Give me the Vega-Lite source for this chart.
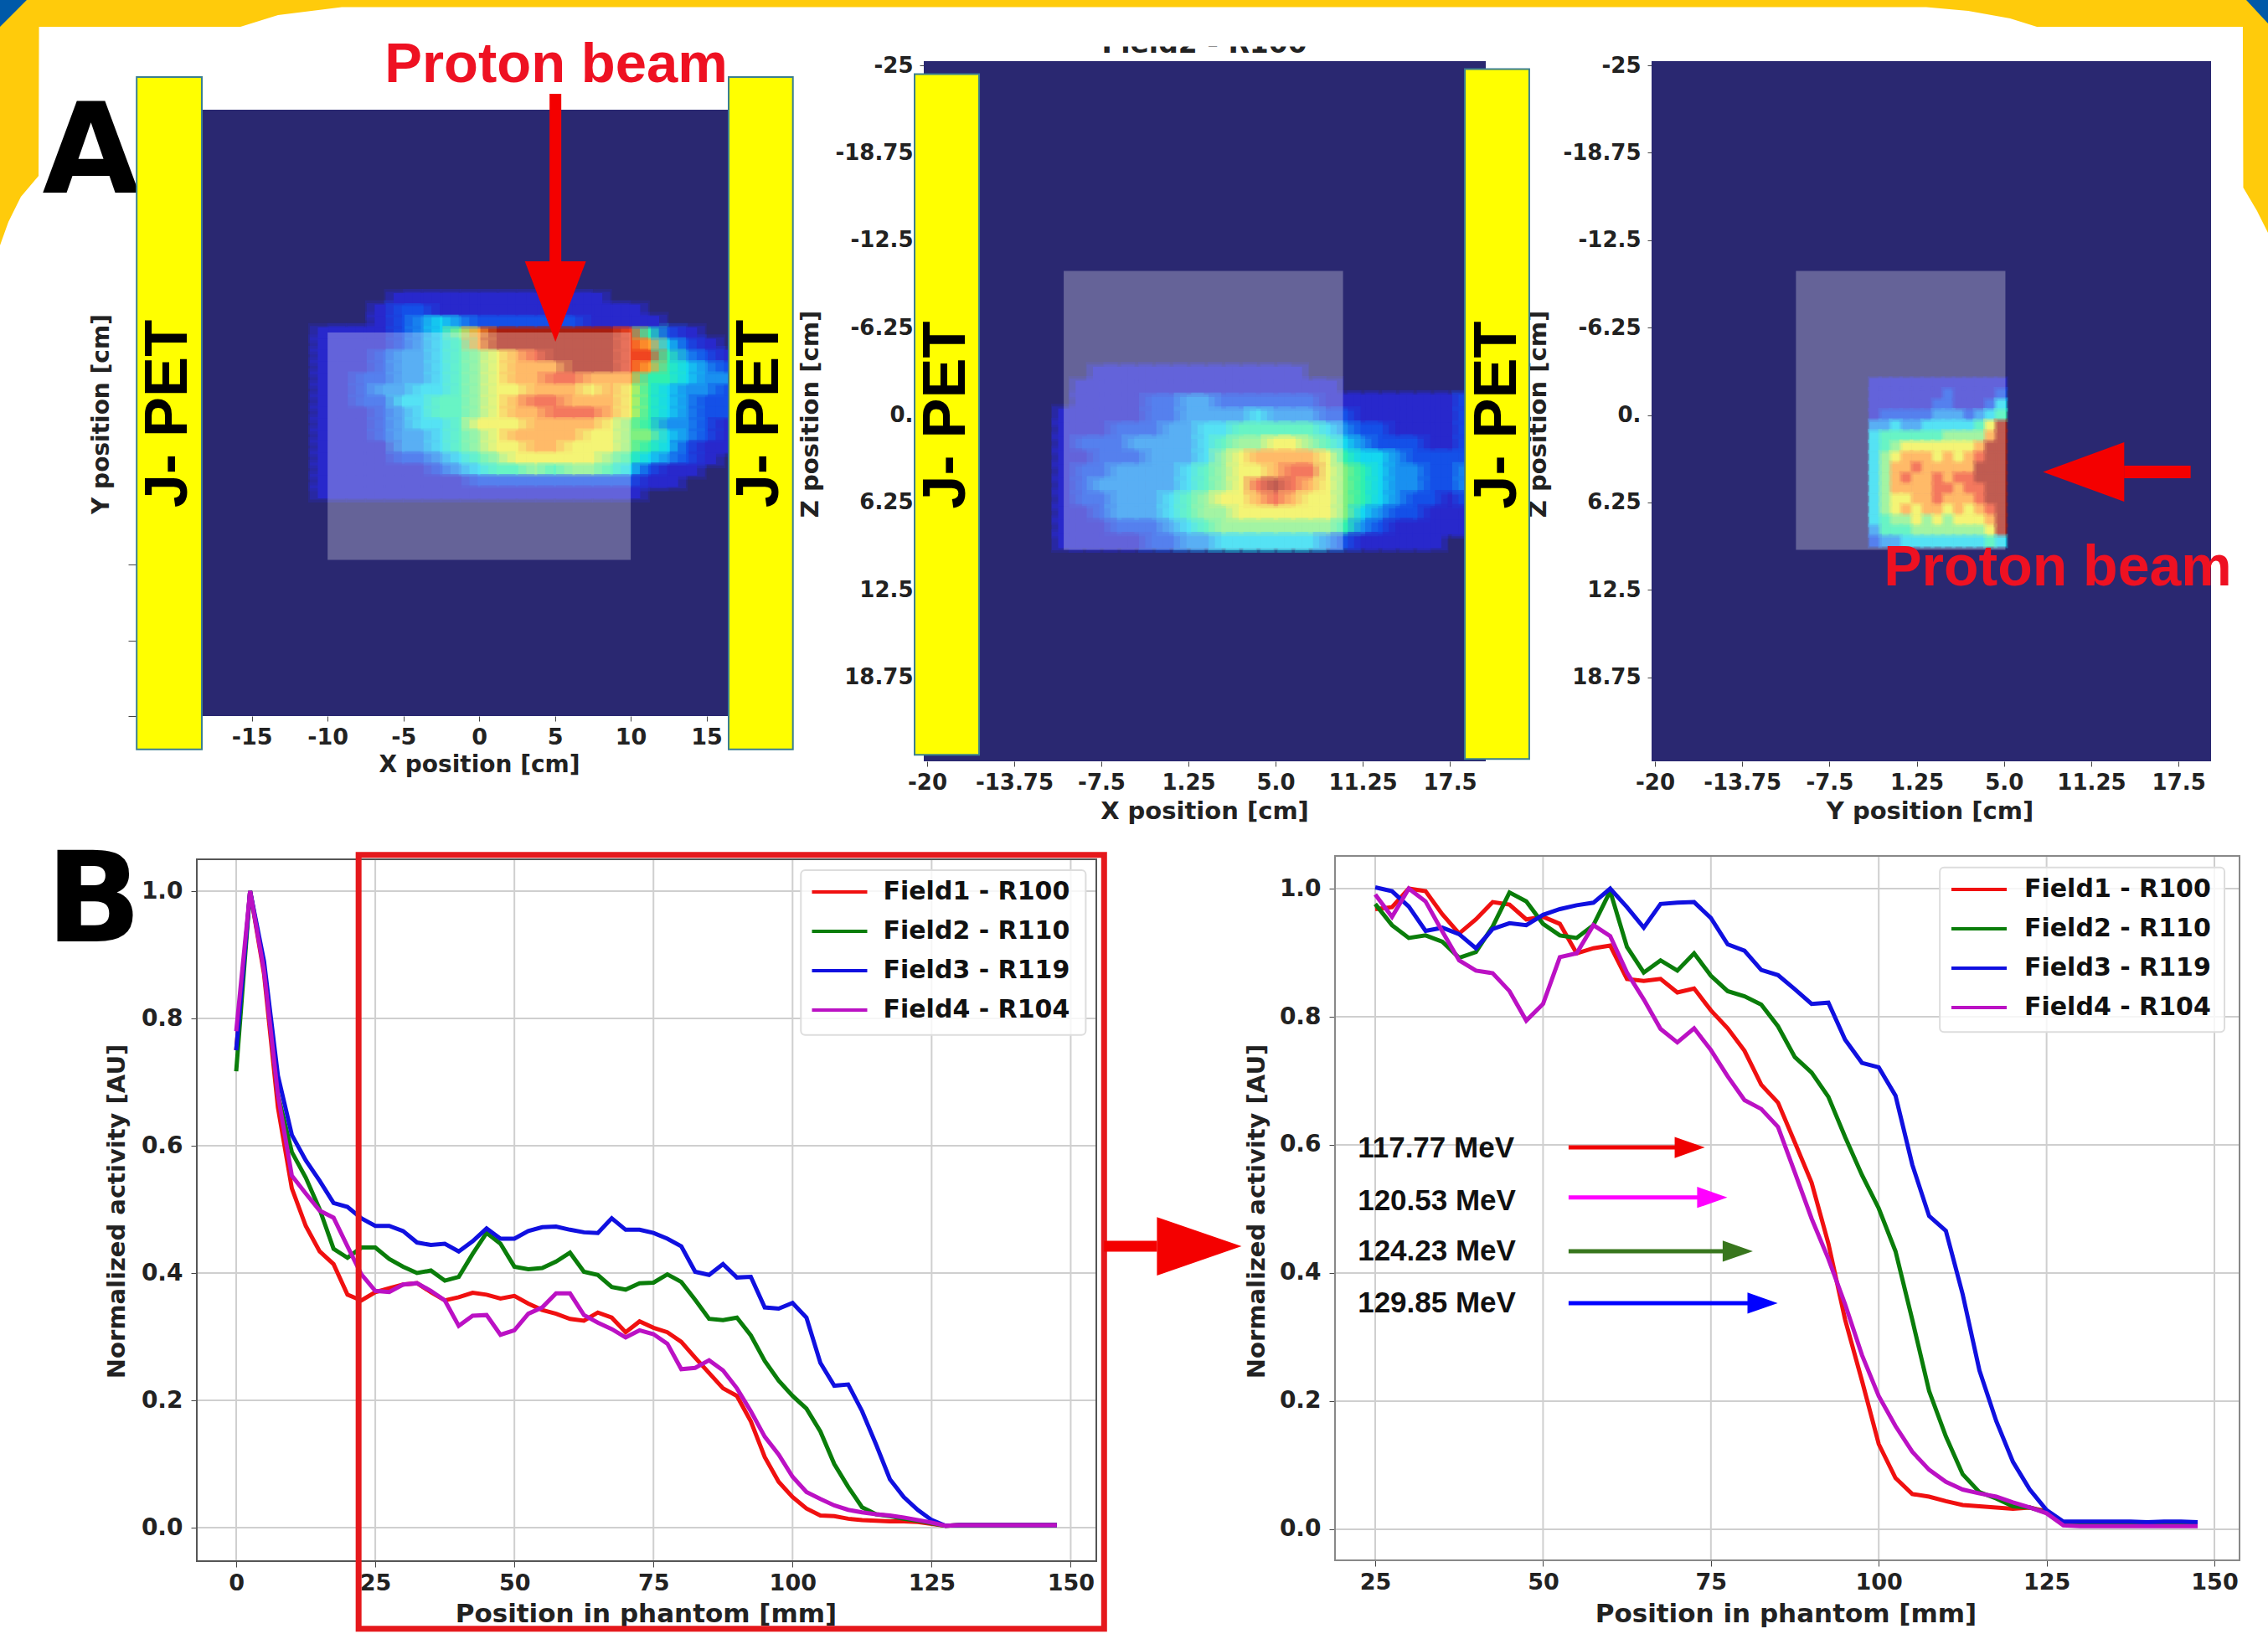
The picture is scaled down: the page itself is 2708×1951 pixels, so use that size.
{"$schema":"https://vega.github.io/schema/vega-lite/v6.json","width":2708,"height":1951,"padding":0,"autosize":{"type":"none"},"background":"white",
"config":{"view":{"stroke":null},"axis":{"domain":false,"grid":false,"labelFont":"DejaVu Sans","labelFontWeight":"bold","titleFont":"DejaVu Sans","titleFontWeight":"bold","labelColor":"#222","titleColor":"#222","tickColor":"#444","labelOverlap":false,"labelFlush":false,"titleBaseline":"middle","titleAlign":"center"}},
"resolve":{"scale":{"x":"independent","y":"independent","color":"independent"},"axis":{"x":"independent","y":"independent"},"legend":{"color":"independent"}},
"datasets":{
"h1":[{"c":4,"r":0,"v":1},{"c":5,"r":0,"v":1},{"c":6,"r":0,"v":1},{"c":7,"r":0,"v":1},{"c":8,"r":0,"v":1},{"c":9,"r":0,"v":1},{"c":10,"r":0,"v":1},{"c":11,"r":0,"v":1},{"c":12,"r":0,"v":1},{"c":13,"r":0,"v":1},{"c":14,"r":0,"v":1},
{"c":3,"r":1,"v":1},{"c":4,"r":1,"v":2},{"c":5,"r":1,"v":2},{"c":6,"r":1,"v":1},{"c":7,"r":1,"v":1},{"c":8,"r":1,"v":1},{"c":9,"r":1,"v":1},{"c":10,"r":1,"v":1},{"c":11,"r":1,"v":1},{"c":12,"r":1,"v":1},{"c":13,"r":1,"v":1},{"c":14,"r":1,"v":1},{"c":15,"r":1,"v":1},{"c":16,"r":1,"v":1},
{"c":3,"r":2,"v":1},{"c":4,"r":2,"v":2},{"c":5,"r":2,"v":3},{"c":6,"r":2,"v":4},{"c":7,"r":2,"v":3},{"c":8,"r":2,"v":2},{"c":9,"r":2,"v":2},{"c":10,"r":2,"v":2},{"c":11,"r":2,"v":2},{"c":12,"r":2,"v":2},{"c":13,"r":2,"v":2},{"c":14,"r":2,"v":1},{"c":15,"r":2,"v":1},{"c":16,"r":2,"v":1},{"c":17,"r":2,"v":1},
{"c":0,"r":3,"v":1},{"c":1,"r":3,"v":1},{"c":2,"r":3,"v":1},{"c":3,"r":3,"v":1},{"c":4,"r":3,"v":2},{"c":5,"r":3,"v":3},{"c":6,"r":3,"v":4},{"c":7,"r":3,"v":6},{"c":8,"r":3,"v":8},{"c":9,"r":3,"v":10},{"c":10,"r":3,"v":10},{"c":11,"r":3,"v":10},{"c":12,"r":3,"v":10},{"c":13,"r":3,"v":10},{"c":14,"r":3,"v":10},{"c":15,"r":3,"v":10},{"c":16,"r":3,"v":9},{"c":17,"r":3,"v":5},{"c":18,"r":3,"v":2},{"c":19,"r":3,"v":1},
{"c":0,"r":4,"v":1},{"c":1,"r":4,"v":1},{"c":2,"r":4,"v":1},{"c":3,"r":4,"v":1},{"c":4,"r":4,"v":2},{"c":5,"r":4,"v":3},{"c":6,"r":4,"v":4},{"c":7,"r":4,"v":5},{"c":8,"r":4,"v":8},{"c":9,"r":4,"v":10},{"c":10,"r":4,"v":10},{"c":11,"r":4,"v":10},{"c":12,"r":4,"v":10},{"c":13,"r":4,"v":10},{"c":14,"r":4,"v":10},{"c":15,"r":4,"v":10},{"c":16,"r":4,"v":9},{"c":17,"r":4,"v":8},{"c":18,"r":4,"v":4},{"c":19,"r":4,"v":2},{"c":20,"r":4,"v":1},
{"c":0,"r":5,"v":1},{"c":1,"r":5,"v":1},{"c":2,"r":5,"v":1},{"c":3,"r":5,"v":2},{"c":4,"r":5,"v":3},{"c":5,"r":5,"v":3},{"c":6,"r":5,"v":4},{"c":7,"r":5,"v":5},{"c":8,"r":5,"v":6},{"c":9,"r":5,"v":7},{"c":10,"r":5,"v":8},{"c":11,"r":5,"v":9},{"c":12,"r":5,"v":10},{"c":13,"r":5,"v":10},{"c":14,"r":5,"v":10},{"c":15,"r":5,"v":10},{"c":16,"r":5,"v":9},{"c":17,"r":5,"v":9},{"c":18,"r":5,"v":5},{"c":19,"r":5,"v":3},{"c":20,"r":5,"v":2},{"c":21,"r":5,"v":1},
{"c":0,"r":6,"v":1},{"c":1,"r":6,"v":1},{"c":2,"r":6,"v":1},{"c":3,"r":6,"v":2},{"c":4,"r":6,"v":3},{"c":5,"r":6,"v":3},{"c":6,"r":6,"v":4},{"c":7,"r":6,"v":5},{"c":8,"r":6,"v":6},{"c":9,"r":6,"v":7},{"c":10,"r":6,"v":8},{"c":11,"r":6,"v":8},{"c":12,"r":6,"v":8},{"c":13,"r":6,"v":10},{"c":14,"r":6,"v":10},{"c":15,"r":6,"v":10},{"c":16,"r":6,"v":9},{"c":17,"r":6,"v":8},{"c":18,"r":6,"v":5},{"c":19,"r":6,"v":4},{"c":20,"r":6,"v":3},{"c":21,"r":6,"v":2},
{"c":0,"r":7,"v":1},{"c":1,"r":7,"v":1},{"c":2,"r":7,"v":2},{"c":3,"r":7,"v":2},{"c":4,"r":7,"v":3},{"c":5,"r":7,"v":3},{"c":6,"r":7,"v":4},{"c":7,"r":7,"v":5},{"c":8,"r":7,"v":6},{"c":9,"r":7,"v":7},{"c":10,"r":7,"v":8},{"c":11,"r":7,"v":8},{"c":12,"r":7,"v":9},{"c":13,"r":7,"v":9},{"c":14,"r":7,"v":8},{"c":15,"r":7,"v":8},{"c":16,"r":7,"v":8},{"c":17,"r":7,"v":5},{"c":18,"r":7,"v":5},{"c":19,"r":7,"v":4},{"c":20,"r":7,"v":3},{"c":21,"r":7,"v":3},
{"c":0,"r":8,"v":1},{"c":1,"r":8,"v":1},{"c":2,"r":8,"v":2},{"c":3,"r":8,"v":3},{"c":4,"r":8,"v":3},{"c":5,"r":8,"v":4},{"c":6,"r":8,"v":4},{"c":7,"r":8,"v":5},{"c":8,"r":8,"v":6},{"c":9,"r":8,"v":7},{"c":10,"r":8,"v":7},{"c":11,"r":8,"v":8},{"c":12,"r":8,"v":8},{"c":13,"r":8,"v":8},{"c":14,"r":8,"v":7},{"c":15,"r":8,"v":8},{"c":16,"r":8,"v":7},{"c":17,"r":8,"v":5},{"c":18,"r":8,"v":4},{"c":19,"r":8,"v":3},{"c":20,"r":8,"v":3},{"c":21,"r":8,"v":2},
{"c":0,"r":9,"v":1},{"c":1,"r":9,"v":1},{"c":2,"r":9,"v":2},{"c":3,"r":9,"v":2},{"c":4,"r":9,"v":4},{"c":5,"r":9,"v":4},{"c":6,"r":9,"v":5},{"c":7,"r":9,"v":5},{"c":8,"r":9,"v":6},{"c":9,"r":9,"v":7},{"c":10,"r":9,"v":8},{"c":11,"r":9,"v":9},{"c":12,"r":9,"v":9},{"c":13,"r":9,"v":8},{"c":14,"r":9,"v":8},{"c":15,"r":9,"v":8},{"c":16,"r":9,"v":7},{"c":17,"r":9,"v":5},{"c":18,"r":9,"v":4},{"c":19,"r":9,"v":3},{"c":20,"r":9,"v":2},{"c":21,"r":9,"v":2},
{"c":0,"r":10,"v":1},{"c":1,"r":10,"v":1},{"c":2,"r":10,"v":1},{"c":3,"r":10,"v":2},{"c":4,"r":10,"v":3},{"c":5,"r":10,"v":4},{"c":6,"r":10,"v":5},{"c":7,"r":10,"v":5},{"c":8,"r":10,"v":6},{"c":9,"r":10,"v":7},{"c":10,"r":10,"v":8},{"c":11,"r":10,"v":8},{"c":12,"r":10,"v":9},{"c":13,"r":10,"v":9},{"c":14,"r":10,"v":9},{"c":15,"r":10,"v":8},{"c":16,"r":10,"v":7},{"c":17,"r":10,"v":5},{"c":18,"r":10,"v":4},{"c":19,"r":10,"v":3},{"c":20,"r":10,"v":2},{"c":21,"r":10,"v":2},
{"c":0,"r":11,"v":1},{"c":1,"r":11,"v":1},{"c":2,"r":11,"v":1},{"c":3,"r":11,"v":2},{"c":4,"r":11,"v":3},{"c":5,"r":11,"v":4},{"c":6,"r":11,"v":4},{"c":7,"r":11,"v":5},{"c":8,"r":11,"v":7},{"c":9,"r":11,"v":7},{"c":10,"r":11,"v":7},{"c":11,"r":11,"v":8},{"c":12,"r":11,"v":8},{"c":13,"r":11,"v":8},{"c":14,"r":11,"v":8},{"c":15,"r":11,"v":7},{"c":16,"r":11,"v":6},{"c":17,"r":11,"v":5},{"c":18,"r":11,"v":3},{"c":19,"r":11,"v":3},{"c":20,"r":11,"v":2},{"c":21,"r":11,"v":1},
{"c":0,"r":12,"v":1},{"c":1,"r":12,"v":1},{"c":2,"r":12,"v":1},{"c":3,"r":12,"v":2},{"c":4,"r":12,"v":3},{"c":5,"r":12,"v":3},{"c":6,"r":12,"v":4},{"c":7,"r":12,"v":5},{"c":8,"r":12,"v":6},{"c":9,"r":12,"v":7},{"c":10,"r":12,"v":8},{"c":11,"r":12,"v":8},{"c":12,"r":12,"v":8},{"c":13,"r":12,"v":8},{"c":14,"r":12,"v":7},{"c":15,"r":12,"v":7},{"c":16,"r":12,"v":6},{"c":17,"r":12,"v":6},{"c":18,"r":12,"v":4},{"c":19,"r":12,"v":3},{"c":20,"r":12,"v":2},{"c":21,"r":12,"v":1},
{"c":0,"r":13,"v":1},{"c":1,"r":13,"v":1},{"c":2,"r":13,"v":1},{"c":3,"r":13,"v":1},{"c":4,"r":13,"v":3},{"c":5,"r":13,"v":3},{"c":6,"r":13,"v":4},{"c":7,"r":13,"v":5},{"c":8,"r":13,"v":6},{"c":9,"r":13,"v":7},{"c":10,"r":13,"v":7},{"c":11,"r":13,"v":8},{"c":12,"r":13,"v":8},{"c":13,"r":13,"v":7},{"c":14,"r":13,"v":7},{"c":15,"r":13,"v":7},{"c":16,"r":13,"v":6},{"c":17,"r":13,"v":5},{"c":18,"r":13,"v":4},{"c":19,"r":13,"v":2},{"c":20,"r":13,"v":1},{"c":21,"r":13,"v":1},
{"c":0,"r":14,"v":1},{"c":1,"r":14,"v":1},{"c":2,"r":14,"v":1},{"c":3,"r":14,"v":1},{"c":4,"r":14,"v":2},{"c":5,"r":14,"v":2},{"c":6,"r":14,"v":3},{"c":7,"r":14,"v":4},{"c":8,"r":14,"v":5},{"c":9,"r":14,"v":6},{"c":10,"r":14,"v":7},{"c":11,"r":14,"v":7},{"c":12,"r":14,"v":7},{"c":13,"r":14,"v":7},{"c":14,"r":14,"v":7},{"c":15,"r":14,"v":6},{"c":16,"r":14,"v":5},{"c":17,"r":14,"v":4},{"c":18,"r":14,"v":3},{"c":19,"r":14,"v":2},{"c":20,"r":14,"v":1},
{"c":0,"r":15,"v":1},{"c":1,"r":15,"v":1},{"c":2,"r":15,"v":1},{"c":3,"r":15,"v":1},{"c":4,"r":15,"v":1},{"c":5,"r":15,"v":1},{"c":6,"r":15,"v":2},{"c":7,"r":15,"v":3},{"c":8,"r":15,"v":4},{"c":9,"r":15,"v":5},{"c":10,"r":15,"v":5},{"c":11,"r":15,"v":6},{"c":12,"r":15,"v":5},{"c":13,"r":15,"v":6},{"c":14,"r":15,"v":6},{"c":15,"r":15,"v":5},{"c":16,"r":15,"v":4},{"c":17,"r":15,"v":2},{"c":18,"r":15,"v":1},{"c":19,"r":15,"v":1},
{"c":0,"r":16,"v":1},{"c":1,"r":16,"v":1},{"c":2,"r":16,"v":1},{"c":3,"r":16,"v":1},{"c":4,"r":16,"v":1},{"c":5,"r":16,"v":1},{"c":6,"r":16,"v":1},{"c":7,"r":16,"v":1},{"c":8,"r":16,"v":2},{"c":9,"r":16,"v":2},{"c":10,"r":16,"v":2},{"c":11,"r":16,"v":2},{"c":12,"r":16,"v":2},{"c":13,"r":16,"v":2},{"c":14,"r":16,"v":2},{"c":15,"r":16,"v":2},{"c":16,"r":16,"v":2},{"c":17,"r":16,"v":1},{"c":18,"r":16,"v":1},
{"c":0,"r":17,"v":1},{"c":1,"r":17,"v":1},{"c":2,"r":17,"v":1},{"c":3,"r":17,"v":1},{"c":4,"r":17,"v":1},{"c":5,"r":17,"v":1},{"c":6,"r":17,"v":1},{"c":7,"r":17,"v":1},{"c":8,"r":17,"v":1},{"c":9,"r":17,"v":1},{"c":10,"r":17,"v":1},{"c":11,"r":17,"v":1},{"c":12,"r":17,"v":1},{"c":13,"r":17,"v":1},{"c":14,"r":17,"v":1},{"c":15,"r":17,"v":1},{"c":16,"r":17,"v":1}],
"h2":[{"c":2,"r":-1,"v":1},{"c":3,"r":-1,"v":1},{"c":4,"r":-1,"v":1},{"c":5,"r":-1,"v":1},{"c":6,"r":-1,"v":1},{"c":7,"r":-1,"v":1},{"c":8,"r":-1,"v":1},{"c":9,"r":-1,"v":1},{"c":10,"r":-1,"v":1},{"c":11,"r":-1,"v":1},{"c":12,"r":-1,"v":1},{"c":13,"r":-1,"v":1},
{"c":1,"r":0,"v":1},{"c":2,"r":0,"v":1},{"c":3,"r":0,"v":1},{"c":4,"r":0,"v":1},{"c":5,"r":0,"v":1},{"c":6,"r":0,"v":1},{"c":7,"r":0,"v":1},{"c":8,"r":0,"v":1},{"c":9,"r":0,"v":1},{"c":10,"r":0,"v":1},{"c":11,"r":0,"v":1},{"c":12,"r":0,"v":1},{"c":13,"r":0,"v":1},{"c":14,"r":0,"v":1},{"c":15,"r":0,"v":1},
{"c":1,"r":1,"v":1},{"c":2,"r":1,"v":1},{"c":3,"r":1,"v":1},{"c":4,"r":1,"v":1},{"c":5,"r":1,"v":2},{"c":6,"r":1,"v":2},{"c":7,"r":1,"v":3},{"c":8,"r":1,"v":3},{"c":9,"r":1,"v":2},{"c":10,"r":1,"v":2},{"c":11,"r":1,"v":2},{"c":12,"r":1,"v":2},{"c":13,"r":1,"v":2},{"c":14,"r":1,"v":2},{"c":15,"r":1,"v":1},{"c":16,"r":1,"v":1},{"c":17,"r":1,"v":1},{"c":18,"r":1,"v":1},{"c":19,"r":1,"v":1},{"c":20,"r":1,"v":1},{"c":21,"r":1,"v":1},{"c":22,"r":1,"v":1},{"c":23,"r":1,"v":2},
{"c":0,"r":2,"v":1},{"c":1,"r":2,"v":1},{"c":2,"r":2,"v":1},{"c":3,"r":2,"v":1},{"c":4,"r":2,"v":1},{"c":5,"r":2,"v":2},{"c":6,"r":2,"v":2},{"c":7,"r":2,"v":3},{"c":8,"r":2,"v":3},{"c":9,"r":2,"v":3},{"c":10,"r":2,"v":3},{"c":11,"r":2,"v":4},{"c":12,"r":2,"v":3},{"c":13,"r":2,"v":3},{"c":14,"r":2,"v":3},{"c":15,"r":2,"v":2},{"c":16,"r":2,"v":2},{"c":17,"r":2,"v":1},{"c":18,"r":2,"v":1},{"c":19,"r":2,"v":1},{"c":20,"r":2,"v":1},{"c":21,"r":2,"v":1},{"c":22,"r":2,"v":1},{"c":23,"r":2,"v":2},
{"c":0,"r":3,"v":1},{"c":1,"r":3,"v":1},{"c":2,"r":3,"v":1},{"c":3,"r":3,"v":2},{"c":4,"r":3,"v":2},{"c":5,"r":3,"v":2},{"c":6,"r":3,"v":3},{"c":7,"r":3,"v":3},{"c":8,"r":3,"v":4},{"c":9,"r":3,"v":4},{"c":10,"r":3,"v":5},{"c":11,"r":3,"v":5},{"c":12,"r":3,"v":5},{"c":13,"r":3,"v":5},{"c":14,"r":3,"v":5},{"c":15,"r":3,"v":4},{"c":16,"r":3,"v":3},{"c":17,"r":3,"v":2},{"c":18,"r":3,"v":2},{"c":19,"r":3,"v":1},{"c":20,"r":3,"v":1},{"c":21,"r":3,"v":1},{"c":22,"r":3,"v":1},{"c":23,"r":3,"v":2},
{"c":0,"r":4,"v":1},{"c":1,"r":4,"v":2},{"c":2,"r":4,"v":2},{"c":3,"r":4,"v":2},{"c":4,"r":4,"v":3},{"c":5,"r":4,"v":3},{"c":6,"r":4,"v":3},{"c":7,"r":4,"v":3},{"c":8,"r":4,"v":4},{"c":9,"r":4,"v":5},{"c":10,"r":4,"v":6},{"c":11,"r":4,"v":6},{"c":12,"r":4,"v":7},{"c":13,"r":4,"v":7},{"c":14,"r":4,"v":6},{"c":15,"r":4,"v":5},{"c":16,"r":4,"v":4},{"c":17,"r":4,"v":3},{"c":18,"r":4,"v":2},{"c":19,"r":4,"v":2},{"c":20,"r":4,"v":2},{"c":21,"r":4,"v":1},{"c":22,"r":4,"v":1},{"c":23,"r":4,"v":2},
{"c":0,"r":5,"v":1},{"c":1,"r":5,"v":1},{"c":2,"r":5,"v":2},{"c":3,"r":5,"v":2},{"c":4,"r":5,"v":2},{"c":5,"r":5,"v":3},{"c":6,"r":5,"v":3},{"c":7,"r":5,"v":3},{"c":8,"r":5,"v":4},{"c":9,"r":5,"v":6},{"c":10,"r":5,"v":7},{"c":11,"r":5,"v":8},{"c":12,"r":5,"v":8},{"c":13,"r":5,"v":8},{"c":14,"r":5,"v":8},{"c":15,"r":5,"v":7},{"c":16,"r":5,"v":5},{"c":17,"r":5,"v":4},{"c":18,"r":5,"v":4},{"c":19,"r":5,"v":3},{"c":20,"r":5,"v":2},{"c":21,"r":5,"v":2},{"c":22,"r":5,"v":2},{"c":23,"r":5,"v":2},
{"c":0,"r":6,"v":1},{"c":1,"r":6,"v":2},{"c":2,"r":6,"v":2},{"c":3,"r":6,"v":3},{"c":4,"r":6,"v":3},{"c":5,"r":6,"v":3},{"c":6,"r":6,"v":3},{"c":7,"r":6,"v":4},{"c":8,"r":6,"v":5},{"c":9,"r":6,"v":6},{"c":10,"r":6,"v":7},{"c":11,"r":6,"v":7},{"c":12,"r":6,"v":8},{"c":13,"r":6,"v":9},{"c":14,"r":6,"v":9},{"c":15,"r":6,"v":7},{"c":16,"r":6,"v":6},{"c":17,"r":6,"v":5},{"c":18,"r":6,"v":4},{"c":19,"r":6,"v":3},{"c":20,"r":6,"v":3},{"c":21,"r":6,"v":2},{"c":22,"r":6,"v":2},{"c":23,"r":6,"v":3},
{"c":0,"r":7,"v":1},{"c":1,"r":7,"v":2},{"c":2,"r":7,"v":3},{"c":3,"r":7,"v":3},{"c":4,"r":7,"v":3},{"c":5,"r":7,"v":3},{"c":6,"r":7,"v":3},{"c":7,"r":7,"v":4},{"c":8,"r":7,"v":5},{"c":9,"r":7,"v":6},{"c":10,"r":7,"v":7},{"c":11,"r":7,"v":9},{"c":12,"r":7,"v":10},{"c":13,"r":7,"v":9},{"c":14,"r":7,"v":8},{"c":15,"r":7,"v":7},{"c":16,"r":7,"v":6},{"c":17,"r":7,"v":5},{"c":18,"r":7,"v":4},{"c":19,"r":7,"v":3},{"c":20,"r":7,"v":3},{"c":21,"r":7,"v":2},{"c":22,"r":7,"v":2},{"c":23,"r":7,"v":3},
{"c":0,"r":8,"v":1},{"c":1,"r":8,"v":2},{"c":2,"r":8,"v":2},{"c":3,"r":8,"v":3},{"c":4,"r":8,"v":3},{"c":5,"r":8,"v":3},{"c":6,"r":8,"v":4},{"c":7,"r":8,"v":5},{"c":8,"r":8,"v":6},{"c":9,"r":8,"v":7},{"c":10,"r":8,"v":7},{"c":11,"r":8,"v":8},{"c":12,"r":8,"v":9},{"c":13,"r":8,"v":8},{"c":14,"r":8,"v":7},{"c":15,"r":8,"v":7},{"c":16,"r":8,"v":6},{"c":17,"r":8,"v":5},{"c":18,"r":8,"v":4},{"c":19,"r":8,"v":3},{"c":20,"r":8,"v":2},{"c":21,"r":8,"v":2},{"c":22,"r":8,"v":1},{"c":23,"r":8,"v":2},
{"c":0,"r":9,"v":1},{"c":1,"r":9,"v":1},{"c":2,"r":9,"v":2},{"c":3,"r":9,"v":3},{"c":4,"r":9,"v":3},{"c":5,"r":9,"v":3},{"c":6,"r":9,"v":4},{"c":7,"r":9,"v":5},{"c":8,"r":9,"v":6},{"c":9,"r":9,"v":6},{"c":10,"r":9,"v":7},{"c":11,"r":9,"v":7},{"c":12,"r":9,"v":7},{"c":13,"r":9,"v":7},{"c":14,"r":9,"v":7},{"c":15,"r":9,"v":7},{"c":16,"r":9,"v":6},{"c":17,"r":9,"v":4},{"c":18,"r":9,"v":3},{"c":19,"r":9,"v":2},{"c":20,"r":9,"v":2},{"c":21,"r":9,"v":1},{"c":22,"r":9,"v":1},{"c":23,"r":9,"v":1},
{"c":0,"r":10,"v":1},{"c":1,"r":10,"v":1},{"c":2,"r":10,"v":1},{"c":3,"r":10,"v":2},{"c":4,"r":10,"v":2},{"c":5,"r":10,"v":2},{"c":6,"r":10,"v":3},{"c":7,"r":10,"v":4},{"c":8,"r":10,"v":5},{"c":9,"r":10,"v":6},{"c":10,"r":10,"v":6},{"c":11,"r":10,"v":6},{"c":12,"r":10,"v":6},{"c":13,"r":10,"v":6},{"c":14,"r":10,"v":6},{"c":15,"r":10,"v":6},{"c":16,"r":10,"v":5},{"c":17,"r":10,"v":3},{"c":18,"r":10,"v":2},{"c":19,"r":10,"v":1},{"c":20,"r":10,"v":1},{"c":21,"r":10,"v":1},{"c":22,"r":10,"v":1},{"c":23,"r":10,"v":1},
{"c":0,"r":11,"v":1},{"c":1,"r":11,"v":1},{"c":2,"r":11,"v":1},{"c":3,"r":11,"v":1},{"c":4,"r":11,"v":1},{"c":5,"r":11,"v":2},{"c":6,"r":11,"v":2},{"c":7,"r":11,"v":3},{"c":8,"r":11,"v":3},{"c":9,"r":11,"v":4},{"c":10,"r":11,"v":4},{"c":11,"r":11,"v":4},{"c":12,"r":11,"v":4},{"c":13,"r":11,"v":4},{"c":14,"r":11,"v":4},{"c":15,"r":11,"v":3},{"c":16,"r":11,"v":2},{"c":17,"r":11,"v":1},{"c":18,"r":11,"v":1},{"c":19,"r":11,"v":1},{"c":20,"r":11,"v":1},{"c":21,"r":11,"v":1}],
"h3":[{"c":1,"r":-2,"v":1},{"c":2,"r":-2,"v":1},{"c":3,"r":-2,"v":1},{"c":4,"r":-2,"v":1},{"c":5,"r":-2,"v":1},{"c":6,"r":-2,"v":1},{"c":7,"r":-2,"v":1},{"c":8,"r":-2,"v":1},{"c":9,"r":-2,"v":1},{"c":10,"r":-2,"v":1},{"c":11,"r":-2,"v":1},{"c":12,"r":-2,"v":1},{"c":13,"r":-2,"v":1},
{"c":1,"r":-1,"v":1},{"c":2,"r":-1,"v":1},{"c":3,"r":-1,"v":1},{"c":4,"r":-1,"v":1},{"c":5,"r":-1,"v":1},{"c":6,"r":-1,"v":1},{"c":7,"r":-1,"v":1},{"c":8,"r":-1,"v":2},{"c":9,"r":-1,"v":1},{"c":10,"r":-1,"v":1},{"c":11,"r":-1,"v":1},{"c":12,"r":-1,"v":1},{"c":13,"r":-1,"v":2},
{"c":1,"r":0,"v":1},{"c":2,"r":0,"v":1},{"c":3,"r":0,"v":1},{"c":4,"r":0,"v":1},{"c":5,"r":0,"v":1},{"c":6,"r":0,"v":1},{"c":7,"r":0,"v":2},{"c":8,"r":0,"v":2},{"c":9,"r":0,"v":1},{"c":10,"r":0,"v":1},{"c":11,"r":0,"v":1},{"c":12,"r":0,"v":2},{"c":13,"r":0,"v":4},
{"c":1,"r":1,"v":1},{"c":2,"r":1,"v":2},{"c":3,"r":1,"v":2},{"c":4,"r":1,"v":2},{"c":5,"r":1,"v":2},{"c":6,"r":1,"v":2},{"c":7,"r":1,"v":3},{"c":8,"r":1,"v":3},{"c":9,"r":1,"v":3},{"c":10,"r":1,"v":2},{"c":11,"r":1,"v":3},{"c":12,"r":1,"v":4},{"c":13,"r":1,"v":5},
{"c":1,"r":2,"v":3},{"c":2,"r":2,"v":3},{"c":3,"r":2,"v":4},{"c":4,"r":2,"v":3},{"c":5,"r":2,"v":3},{"c":6,"r":2,"v":4},{"c":7,"r":2,"v":4},{"c":8,"r":2,"v":4},{"c":9,"r":2,"v":4},{"c":10,"r":2,"v":4},{"c":11,"r":2,"v":5},{"c":12,"r":2,"v":7},{"c":13,"r":2,"v":10},
{"c":1,"r":3,"v":4},{"c":2,"r":3,"v":5},{"c":3,"r":3,"v":5},{"c":4,"r":3,"v":5},{"c":5,"r":3,"v":5},{"c":6,"r":3,"v":5},{"c":7,"r":3,"v":5},{"c":8,"r":3,"v":6},{"c":9,"r":3,"v":6},{"c":10,"r":3,"v":6},{"c":11,"r":3,"v":6},{"c":12,"r":3,"v":8},{"c":13,"r":3,"v":10},
{"c":1,"r":4,"v":4},{"c":2,"r":4,"v":5},{"c":3,"r":4,"v":6},{"c":4,"r":4,"v":7},{"c":5,"r":4,"v":7},{"c":6,"r":4,"v":7},{"c":7,"r":4,"v":7},{"c":8,"r":4,"v":7},{"c":9,"r":4,"v":7},{"c":10,"r":4,"v":7},{"c":11,"r":4,"v":8},{"c":12,"r":4,"v":10},{"c":13,"r":4,"v":10},
{"c":1,"r":5,"v":4},{"c":2,"r":5,"v":6},{"c":3,"r":5,"v":7},{"c":4,"r":5,"v":8},{"c":5,"r":5,"v":8},{"c":6,"r":5,"v":8},{"c":7,"r":5,"v":7},{"c":8,"r":5,"v":8},{"c":9,"r":5,"v":7},{"c":10,"r":5,"v":8},{"c":11,"r":5,"v":9},{"c":12,"r":5,"v":10},{"c":13,"r":5,"v":10},
{"c":1,"r":6,"v":4},{"c":2,"r":6,"v":6},{"c":3,"r":6,"v":8},{"c":4,"r":6,"v":8},{"c":5,"r":6,"v":9},{"c":6,"r":6,"v":8},{"c":7,"r":6,"v":8},{"c":8,"r":6,"v":8},{"c":9,"r":6,"v":8},{"c":10,"r":6,"v":8},{"c":11,"r":6,"v":10},{"c":12,"r":6,"v":10},{"c":13,"r":6,"v":10},
{"c":1,"r":7,"v":4},{"c":2,"r":7,"v":6},{"c":3,"r":7,"v":8},{"c":4,"r":7,"v":9},{"c":5,"r":7,"v":8},{"c":6,"r":7,"v":8},{"c":7,"r":7,"v":9},{"c":8,"r":7,"v":8},{"c":9,"r":7,"v":9},{"c":10,"r":7,"v":9},{"c":11,"r":7,"v":10},{"c":12,"r":7,"v":10},{"c":13,"r":7,"v":10},
{"c":1,"r":8,"v":4},{"c":2,"r":8,"v":6},{"c":3,"r":8,"v":8},{"c":4,"r":8,"v":8},{"c":5,"r":8,"v":8},{"c":6,"r":8,"v":8},{"c":7,"r":8,"v":9},{"c":8,"r":8,"v":9},{"c":9,"r":8,"v":8},{"c":10,"r":8,"v":9},{"c":11,"r":8,"v":9},{"c":12,"r":8,"v":10},{"c":13,"r":8,"v":10},
{"c":1,"r":9,"v":4},{"c":2,"r":9,"v":6},{"c":3,"r":9,"v":7},{"c":4,"r":9,"v":7},{"c":5,"r":9,"v":8},{"c":6,"r":9,"v":8},{"c":7,"r":9,"v":9},{"c":8,"r":9,"v":8},{"c":9,"r":9,"v":8},{"c":10,"r":9,"v":8},{"c":11,"r":9,"v":9},{"c":12,"r":9,"v":10},{"c":13,"r":9,"v":10},
{"c":1,"r":10,"v":4},{"c":2,"r":10,"v":6},{"c":3,"r":10,"v":7},{"c":4,"r":10,"v":8},{"c":5,"r":10,"v":7},{"c":6,"r":10,"v":8},{"c":7,"r":10,"v":8},{"c":8,"r":10,"v":7},{"c":9,"r":10,"v":8},{"c":10,"r":10,"v":7},{"c":11,"r":10,"v":8},{"c":12,"r":10,"v":9},{"c":13,"r":10,"v":10},
{"c":1,"r":11,"v":4},{"c":2,"r":11,"v":5},{"c":3,"r":11,"v":6},{"c":4,"r":11,"v":6},{"c":5,"r":11,"v":7},{"c":6,"r":11,"v":6},{"c":7,"r":11,"v":7},{"c":8,"r":11,"v":6},{"c":9,"r":11,"v":7},{"c":10,"r":11,"v":7},{"c":11,"r":11,"v":7},{"c":12,"r":11,"v":8},{"c":13,"r":11,"v":10},
{"c":1,"r":12,"v":3},{"c":2,"r":12,"v":5},{"c":3,"r":12,"v":5},{"c":4,"r":12,"v":5},{"c":5,"r":12,"v":6},{"c":6,"r":12,"v":6},{"c":7,"r":12,"v":6},{"c":8,"r":12,"v":6},{"c":9,"r":12,"v":6},{"c":10,"r":12,"v":6},{"c":11,"r":12,"v":6},{"c":12,"r":12,"v":7},{"c":13,"r":12,"v":10},
{"c":1,"r":13,"v":2},{"c":2,"r":13,"v":3},{"c":3,"r":13,"v":3},{"c":4,"r":13,"v":4},{"c":5,"r":13,"v":4},{"c":6,"r":13,"v":4},{"c":7,"r":13,"v":4},{"c":8,"r":13,"v":4},{"c":9,"r":13,"v":4},{"c":10,"r":13,"v":4},{"c":11,"r":13,"v":4},{"c":12,"r":13,"v":5},{"c":13,"r":13,"v":4}],
"b1":[{"x":0,"f1":0.75,"f2":0.717,"f3":0.75,"f4":0.78},{"x":2.5,"f1":1,"f2":1,"f3":1,"f4":1},{"x":5,"f1":0.87,"f2":0.88,"f3":0.89,"f4":0.875},{"x":7.5,"f1":0.66,"f2":0.68,"f3":0.71,"f4":0.68},{"x":10,"f1":0.533,"f2":0.59,"f3":0.617,"f4":0.553},{"x":12.5,"f1":0.474,"f2":0.55,"f3":0.577,"f4":0.525},{"x":15,"f1":0.434,"f2":0.5,"f3":0.545,"f4":0.498},{"x":17.5,"f1":0.414,"f2":0.438,"f3":0.51,"f4":0.487},{"x":20,"f1":0.366,"f2":0.424,"f3":0.504,"f4":0.442},{"x":22.5,"f1":0.357,"f2":0.44,"f3":0.486,"f4":0.398},{"x":25,"f1":0.37,"f2":0.44,"f3":0.474,"f4":0.372},{"x":27.5,"f1":0.376,"f2":0.422,"f3":0.474,"f4":0.37},{"x":30,"f1":0.382,"f2":0.41,"f3":0.466,"f4":0.382},{"x":32.5,"f1":0.384,"f2":0.4,"f3":0.448,"f4":0.384},{"x":35,"f1":0.37,"f2":0.404,"f3":0.444,"f4":0.372},{"x":37.5,"f1":0.357,"f2":0.388,"f3":0.446,"f4":0.357},{"x":40,"f1":0.362,"f2":0.394,"f3":0.434,"f4":0.317},{"x":42.5,"f1":0.369,"f2":0.43,"f3":0.45,"f4":0.333},{"x":45,"f1":0.366,"f2":0.463,"f3":0.47,"f4":0.334},{"x":47.5,"f1":0.36,"f2":0.446,"f3":0.454,"f4":0.303},{"x":50,"f1":0.364,"f2":0.41,"f3":0.454,"f4":0.31},{"x":52.5,"f1":0.352,"f2":0.406,"f3":0.466,"f4":0.336},{"x":55,"f1":0.342,"f2":0.408,"f3":0.472,"f4":0.346},{"x":57.5,"f1":0.336,"f2":0.418,"f3":0.473,"f4":0.368},{"x":60,"f1":0.328,"f2":0.432,"f3":0.468,"f4":0.368},{"x":62.5,"f1":0.325,"f2":0.402,"f3":0.464,"f4":0.334},{"x":65,"f1":0.338,"f2":0.397,"f3":0.463,"f4":0.322},{"x":67.5,"f1":0.33,"f2":0.378,"f3":0.486,"f4":0.312},{"x":70,"f1":0.307,"f2":0.374,"f3":0.468,"f4":0.299},{"x":72.5,"f1":0.324,"f2":0.384,"f3":0.468,"f4":0.31},{"x":75,"f1":0.314,"f2":0.385,"f3":0.463,"f4":0.304},{"x":77.5,"f1":0.307,"f2":0.398,"f3":0.454,"f4":0.289},{"x":80,"f1":0.292,"f2":0.386,"f3":0.442,"f4":0.249},{"x":82.5,"f1":0.267,"f2":0.358,"f3":0.402,"f4":0.251},{"x":85,"f1":0.243,"f2":0.328,"f3":0.397,"f4":0.263},{"x":87.5,"f1":0.219,"f2":0.326,"f3":0.414,"f4":0.247},{"x":90,"f1":0.207,"f2":0.33,"f3":0.393,"f4":0.219},{"x":92.5,"f1":0.167,"f2":0.302,"f3":0.394,"f4":0.183},{"x":95,"f1":0.111,"f2":0.262,"f3":0.346,"f4":0.143},{"x":97.5,"f1":0.072,"f2":0.231,"f3":0.344,"f4":0.115},{"x":100,"f1":0.048,"f2":0.207,"f3":0.353,"f4":0.08},{"x":102.5,"f1":0.03,"f2":0.187,"f3":0.33,"f4":0.056},{"x":105,"f1":0.019,"f2":0.151,"f3":0.259,"f4":0.045},{"x":107.5,"f1":0.018,"f2":0.1,"f3":0.223,"f4":0.035},{"x":110,"f1":0.014,"f2":0.064,"f3":0.225,"f4":0.028},{"x":112.5,"f1":0.012,"f2":0.032,"f3":0.183,"f4":0.024},{"x":115,"f1":0.011,"f2":0.021,"f3":0.131,"f4":0.021},{"x":117.5,"f1":0.01,"f2":0.018,"f3":0.076,"f4":0.019},{"x":120,"f1":0.01,"f2":0.014,"f3":0.048,"f4":0.016},{"x":122.5,"f1":0.009,"f2":0.011,"f3":0.028,"f4":0.012},{"x":125,"f1":0.006,"f2":0.007,"f3":0.012,"f4":0.008},{"x":127.5,"f1":0.003,"f2":0.003,"f3":0.003,"f4":0.003},{"x":130,"f1":0.004,"f2":0.004,"f3":0.004,"f4":0.004},{"x":132.5,"f1":0.004,"f2":0.004,"f3":0.004,"f4":0.004},{"x":135,"f1":0.004,"f2":0.004,"f3":0.004,"f4":0.004},{"x":137.5,"f1":0.004,"f2":0.004,"f3":0.004,"f4":0.004},{"x":140,"f1":0.004,"f2":0.004,"f3":0.004,"f4":0.004},{"x":142.5,"f1":0.004,"f2":0.004,"f3":0.004,"f4":0.004},{"x":145,"f1":0.004,"f2":0.004,"f3":0.004,"f4":0.004},{"x":147.5,"f1":0.004,"f2":0.004,"f3":0.004,"f4":0.004}],
"b2":[{"x":25,"f1":0.968,"f2":0.976,"f3":1.002,"f4":0.991},{"x":27.5,"f1":0.971,"f2":0.943,"f3":0.996,"f4":0.956},{"x":30,"f1":1,"f2":0.923,"f3":0.972,"f4":1},{"x":32.5,"f1":0.996,"f2":0.927,"f3":0.934,"f4":0.98},{"x":35,"f1":0.96,"f2":0.917,"f3":0.939,"f4":0.933},{"x":37.5,"f1":0.93,"f2":0.892,"f3":0.929,"f4":0.888},{"x":40,"f1":0.952,"f2":0.901,"f3":0.907,"f4":0.872},{"x":42.5,"f1":0.979,"f2":0.941,"f3":0.937,"f4":0.868},{"x":45,"f1":0.975,"f2":0.994,"f3":0.946,"f4":0.84},{"x":47.5,"f1":0.952,"f2":0.98,"f3":0.943,"f4":0.794},{"x":50,"f1":0.956,"f2":0.945,"f3":0.959,"f4":0.82},{"x":52.5,"f1":0.945,"f2":0.927,"f3":0.968,"f4":0.893},{"x":55,"f1":0.899,"f2":0.923,"f3":0.974,"f4":0.899},{"x":57.5,"f1":0.907,"f2":0.943,"f3":0.978,"f4":0.943},{"x":60,"f1":0.911,"f2":0.996,"f3":1,"f4":0.926},{"x":62.5,"f1":0.859,"f2":0.909,"f3":0.971,"f4":0.869},{"x":65,"f1":0.856,"f2":0.869,"f3":0.939,"f4":0.827},{"x":67.5,"f1":0.859,"f2":0.888,"f3":0.976,"f4":0.781},{"x":70,"f1":0.838,"f2":0.872,"f3":0.978,"f4":0.76},{"x":72.5,"f1":0.844,"f2":0.899,"f3":0.979,"f4":0.782},{"x":75,"f1":0.81,"f2":0.864,"f3":0.954,"f4":0.748},{"x":77.5,"f1":0.782,"f2":0.84,"f3":0.913,"f4":0.707},{"x":80,"f1":0.747,"f2":0.832,"f3":0.903,"f4":0.67},{"x":82.5,"f1":0.694,"f2":0.819,"f3":0.873,"f4":0.656},{"x":85,"f1":0.666,"f2":0.785,"f3":0.865,"f4":0.628},{"x":87.5,"f1":0.604,"f2":0.737,"f3":0.843,"f4":0.557},{"x":90,"f1":0.541,"f2":0.713,"f3":0.82,"f4":0.485},{"x":92.5,"f1":0.446,"f2":0.675,"f3":0.822,"f4":0.422},{"x":95,"f1":0.327,"f2":0.612,"f3":0.764,"f4":0.351},{"x":97.5,"f1":0.232,"f2":0.553,"f3":0.728,"f4":0.272},{"x":100,"f1":0.133,"f2":0.501,"f3":0.721,"f4":0.208},{"x":102.5,"f1":0.08,"f2":0.434,"f3":0.677,"f4":0.161},{"x":105,"f1":0.055,"f2":0.327,"f3":0.569,"f4":0.121},{"x":107.5,"f1":0.051,"f2":0.216,"f3":0.489,"f4":0.093},{"x":110,"f1":0.044,"f2":0.145,"f3":0.466,"f4":0.074},{"x":112.5,"f1":0.038,"f2":0.086,"f3":0.367,"f4":0.062},{"x":115,"f1":0.036,"f2":0.058,"f3":0.248,"f4":0.056},{"x":117.5,"f1":0.034,"f2":0.048,"f3":0.169,"f4":0.051},{"x":120,"f1":0.032,"f2":0.036,"f3":0.105,"f4":0.042},{"x":122.5,"f1":0.034,"f2":0.034,"f3":0.062,"f4":0.034},{"x":125,"f1":0.028,"f2":0.026,"f3":0.03,"f4":0.025},{"x":127.5,"f1":0.01,"f2":0.009,"f3":0.012,"f4":0.006},{"x":130,"f1":0.008,"f2":0.007,"f3":0.012,"f4":0.005},{"x":132.5,"f1":0.008,"f2":0.007,"f3":0.012,"f4":0.005},{"x":135,"f1":0.008,"f2":0.007,"f3":0.012,"f4":0.005},{"x":137.5,"f1":0.008,"f2":0.007,"f3":0.012,"f4":0.005},{"x":140,"f1":0.008,"f2":0.007,"f3":0.011,"f4":0.005},{"x":142.5,"f1":0.008,"f2":0.007,"f3":0.012,"f4":0.005},{"x":145,"f1":0.008,"f2":0.007,"f3":0.012,"f4":0.005},{"x":147.5,"f1":0.008,"f2":0.007,"f3":0.011,"f4":0.005}]
},
"layer":[
{"layer":[
{"data":{"values":[{"x":0,"y":15.02,"t":0},{"x":0.37,"y":13.58,"t":0},{"x":0.92,"y":12.05,"t":0},{"x":1.7,"y":10.76,"t":0},{"x":1.72,"y":1.64,"t":0},{"x":10.6,"y":1.64,"t":0},{"x":12.26,"y":0.92,"t":0},{"x":15.07,"y":0.44,"t":0},{"x":84.93,"y":0.44,"t":0},{"x":86.78,"y":0.67,"t":0},{"x":88.63,"y":1.13,"t":0},{"x":89.81,"y":1.64,"t":0},{"x":98.89,"y":1.64,"t":0},{"x":98.91,"y":11.48,"t":0},{"x":99.52,"y":12.92,"t":0},{"x":100,"y":14.25,"t":0}]},"mark":{"type":"area","color":"#ffcb0b","interpolate":"linear"},
"encoding":{"x":{"field":"x","type":"quantitative","scale":{"domain":[0,100],"range":[0,2708],"nice":false,"zero":false},"axis":null},"y":{"field":"y","type":"quantitative","scale":{"domain":[0,100],"range":[0,1951],"nice":false,"zero":false},"axis":null},"y2":{"field":"t"}}},
{"data":{"values":[{"g":"l","x":0,"y":1.64,"t":0},{"g":"l","x":1.18,"y":0,"t":0},{"g":"r","x":99.04,"y":0,"t":0},{"g":"r","x":100,"y":1.44,"t":0}]},"mark":{"type":"area","color":"#0059a8"},"encoding":{"x":{"field":"x","type":"quantitative"},"y":{"field":"y","type":"quantitative"},"y2":{"field":"t"},"detail":{"field":"g"}}},
{"data":{"values":[{"x":4.007,"y":11.79,"t":"A"},{"x":4.136,"y":57.61,"t":"B"}]},"mark":{"type":"text","font":"DejaVu Sans","fontWeight":"bold","fontSize":150,"color":"black","align":"center","baseline":"alphabetic"},"encoding":{"x":{"field":"x","type":"quantitative"},"y":{"field":"y","type":"quantitative"},"text":{"field":"t"}}}
]},
{"data":{"values":[{"x0":-18.3,"x1":16.46,"y0":-20,"y1":20}]},"mark":{"type":"rect","color":"#2a2871"},
"encoding":{"x":{"field":"x0","type":"quantitative","scale":{"domain":[-18.3,16.46],"range":[241,870],"nice":false,"zero":false},"axis":{"orient":"bottom","offset":-1096,"values":[-15,-10,-5,0,5,10,15],"labelExpr":"''+datum.value","title":"X position [cm]","labelFontSize":27,"titleFontSize":28,"tickSize":6,"labelPadding":6,"titleX":572,"titleY":58}},"x2":{"field":"x1"},"y":{"field":"y0","type":"quantitative","scale":{"domain":[-20,20],"range":[131,855],"nice":false,"zero":false},"axis":{"orient":"left","offset":-163,"values":[10,15,20],"labels":false,"title":"Y position [cm]","titleFontSize":28,"tickSize":10,"titleX":-42,"titleY":494}},"y2":{"field":"y1"}}},
{"data":{"name":"h1"},"encoding":{"x":{"field":"c","type":"quantitative","scale":{"domain":[0,21],"range":[391,866],"nice":false,"zero":false},"axis":null},"y":{"field":"r","type":"quantitative","scale":{"domain":[0,17],"range":[357,588],"nice":false,"zero":false},"axis":null},"color":{"field":"v","type":"quantitative","legend":null,"scale":{"domain":[1,2,3,4,5,6,7,8,9,10],"range":["#2828cc","#1450e8","#1a90f0","#14d8f0","#30f0b0","#80f080","#f0f040","#ffa030","#f04520","#a81e10"]}}},
"layer":[{"mark":{"type":"rect","width":46,"height":24,"opacity":0.25}},{"mark":{"type":"rect","width":23,"height":14,"opacity":1}},{"mark":{"type":"rect","width":42,"height":17,"opacity":0.4}}]},
{"data":{"values":[{"x0":-10,"x1":10,"y0":-5.3,"y1":9.7,"k":"p"}]},"mark":{"type":"rect","color":"white","opacity":0.28},"encoding":{"x":{"field":"x0","type":"quantitative","scale":{"domain":[-18.3,16.46],"range":[241,870],"nice":false,"zero":false},"axis":null},"x2":{"field":"x1"},"y":{"field":"y0","type":"quantitative","scale":{"domain":[-20,20],"range":[131,855],"nice":false,"zero":false},"axis":null},"y2":{"field":"y1"}}},
{"layer":[
{"data":{"values":[{"x":5.03,"a":-21.05,"b":-10}]},"mark":{"type":"rule","color":"#f40000","strokeWidth":14},"encoding":{"x":{"field":"x","type":"quantitative","scale":{"domain":[-18.3,16.46],"range":[241,870],"nice":false,"zero":false},"axis":null},"y":{"field":"a","type":"quantitative","scale":{"domain":[-20,20],"range":[131,855],"nice":false,"zero":false},"axis":null},"y2":{"field":"b"}}},
{"data":{"values":[{"x":5.03,"y":-7.35}]},"mark":{"type":"point","filled":true,"opacity":1,"color":"#f40000","shape":"M-0.76,-1L0.76,-1L0,1Z","size":9216},"encoding":{"x":{"field":"x","type":"quantitative"},"y":{"field":"y","type":"quantitative"}}},
{"data":{"values":[{"x0":-22.6,"x1":-18.3,"y0":-22.15,"y1":22.2},{"x0":16.46,"x1":20.7,"y0":-22.15,"y1":22.2}]},"mark":{"type":"rect","color":"#ffff00","stroke":"#3b7f8f","strokeWidth":2},"encoding":{"x":{"field":"x0","type":"quantitative"},"x2":{"field":"x1"},"y":{"field":"y0","type":"quantitative"},"y2":{"field":"y1"}}},
{"data":{"values":[{"x":-20.5,"y":0.05,"t":"J- PET"},{"x":18.53,"y":0.05,"t":"J- PET"}]},"mark":{"type":"text","font":"Liberation Sans","fontWeight":"bold","fontSize":72,"angle":270,"color":"black","align":"center","baseline":"middle"},"encoding":{"x":{"field":"x","type":"quantitative"},"y":{"field":"y","type":"quantitative"},"text":{"field":"t"}}},
{"data":{"values":[{"x":5.08,"y":-22.93,"t":"Proton beam"}]},"mark":{"type":"text","font":"Liberation Sans","fontWeight":"bold","fontSize":67,"color":"#ee1122","align":"center","baseline":"middle"},"encoding":{"x":{"field":"x","type":"quantitative"},"y":{"field":"y","type":"quantitative"},"text":{"field":"t"}}}
]},
{"layer":[
{"data":{"values":[{"x":-0.1,"y":-25.87,"t":"Field2 - R100"}]},"mark":{"type":"text","font":"DejaVu Sans","fontWeight":"bold","fontSize":33,"color":"#222","align":"center","baseline":"alphabetic"},"encoding":{"x":{"field":"x","type":"quantitative","scale":{"domain":[-20.24,20.08],"range":[1103,1774],"nice":false,"zero":false},"axis":{"orient":"bottom","offset":-1042,"values":[-20,-13.75,-7.5,-1.25,5,11.25,17.5],"labelExpr":"datum.value==-1.25?'1.25':datum.value==5?'5.0':''+datum.value","title":"X position [cm]","labelFontSize":26,"titleFontSize":29,"tickSize":6,"labelPadding":6,"titleX":1438,"titleY":59}},"y":{"field":"y","type":"quantitative","scale":{"domain":[-25.3,24.76],"range":[73,909],"nice":false,"zero":false},"axis":{"orient":"left","offset":-1103,"values":[-25,-18.75,-12.5,-6.25,0,6.25,12.5,18.75],"labelExpr":"datum.value==0?'0.':''+datum.value","title":"Z position [cm]","labelFontSize":26,"titleFontSize":29,"tickSize":5,"labelPadding":8,"titleX":-136,"titleY":494}},"text":{"field":"t"}}},
{"data":{"values":[{"x0":-10,"x1":10,"y0":-28,"y1":-26.35}]},"mark":{"type":"rect","color":"white"},"encoding":{"x":{"field":"x0","type":"quantitative"},"x2":{"field":"x1"},"y":{"field":"y0","type":"quantitative"},"y2":{"field":"y1"}}},
{"data":{"values":[{"x0":-20.24,"x1":20.08,"y0":-25.3,"y1":24.76}]},"mark":{"type":"rect","color":"#2a2871"},"encoding":{"x":{"field":"x0","type":"quantitative"},"x2":{"field":"x1"},"y":{"field":"y0","type":"quantitative"},"y2":{"field":"y1"}}}
]},
{"data":{"name":"h2"},"encoding":{"x":{"field":"c","type":"quantitative","scale":{"domain":[0,23],"range":[1274,1752],"nice":false,"zero":false},"axis":null},"y":{"field":"r","type":"quantitative","scale":{"domain":[0,11],"range":[463,646],"nice":false,"zero":false},"axis":null},"color":{"field":"v","type":"quantitative","legend":null,"scale":{"domain":[1,2,3,4,5,6,7,8,9,10],"range":["#2828cc","#1450e8","#1a90f0","#14d8f0","#30f0b0","#80f080","#f0f040","#ffa030","#f04520","#a81e10"]}}},
"layer":[{"mark":{"type":"rect","width":38,"height":28,"opacity":0.25}},{"mark":{"type":"rect","width":21,"height":17,"opacity":1}},{"mark":{"type":"rect","width":36,"height":22,"opacity":0.4}}]},
{"layer":[
{"data":{"values":[{"x0":-10.2,"x1":9.84,"y0":-10.3,"y1":9.64}]},"mark":{"type":"rect","color":"white","opacity":0.28},"encoding":{"x":{"field":"x0","type":"quantitative","scale":{"domain":[-20.24,20.08],"range":[1103,1774],"nice":false,"zero":false},"axis":null},"x2":{"field":"x1"},"y":{"field":"y0","type":"quantitative","scale":{"domain":[-25.3,24.76],"range":[73,909],"nice":false,"zero":false},"axis":null},"y2":{"field":"y1"}}},
{"data":{"values":[{"x0":-20.9,"x1":-16.27,"y0":-24.37,"y1":24.3},{"x0":18.58,"x1":23.2,"y0":-24.73,"y1":24.6}]},"mark":{"type":"rect","color":"#ffff00","stroke":"#3b7f8f","strokeWidth":2},"encoding":{"x":{"field":"x0","type":"quantitative"},"x2":{"field":"x1"},"y":{"field":"y0","type":"quantitative"},"y2":{"field":"y1"}}},
{"data":{"values":[{"x":-18.6,"y":0,"t":"J- PET"},{"x":20.9,"y":0,"t":"J- PET"}]},"mark":{"type":"text","font":"Liberation Sans","fontWeight":"bold","fontSize":72,"angle":270,"color":"black","align":"center","baseline":"middle"},"encoding":{"x":{"field":"x","type":"quantitative"},"y":{"field":"y","type":"quantitative"},"text":{"field":"t"}}}
]},
{"data":{"values":[{"x0":-20.24,"x1":19.83,"y0":-25.3,"y1":24.76}]},"mark":{"type":"rect","color":"#2a2871"},"encoding":{"x":{"field":"x0","type":"quantitative","scale":{"domain":[-20.24,19.83],"range":[1972,2640],"nice":false,"zero":false},"axis":{"orient":"bottom","offset":-1042,"values":[-20,-13.75,-7.5,-1.25,5,11.25,17.5],"labelExpr":"datum.value==-1.25?'1.25':datum.value==5?'5.0':''+datum.value","title":"Y position [cm]","labelFontSize":26,"titleFontSize":29,"tickSize":6,"labelPadding":6,"titleX":2304,"titleY":59}},"x2":{"field":"x1"},"y":{"field":"y0","type":"quantitative","scale":{"domain":[-25.3,24.76],"range":[73,909],"nice":false,"zero":false},"axis":{"orient":"left","offset":-1972,"values":[-25,-18.75,-12.5,-6.25,0,6.25,12.5,18.75],"labelExpr":"datum.value==0?'0.':''+datum.value","title":"Z position [cm]","labelFontSize":26,"titleFontSize":29,"tickSize":5,"labelPadding":8,"titleX":-136,"titleY":494}},"y2":{"field":"y1"}}},
{"data":{"name":"h3"},"encoding":{"x":{"field":"c","type":"quantitative","scale":{"domain":[0,13],"range":[2226,2389],"nice":false,"zero":false},"axis":null},"y":{"field":"r","type":"quantitative","scale":{"domain":[0,13],"range":[483,646],"nice":false,"zero":false},"axis":null},"color":{"field":"v","type":"quantitative","legend":null,"scale":{"domain":[1,2,3,4,5,6,7,8,9,10],"range":["#2828cc","#1450e8","#1a90f0","#14d8f0","#30f0b0","#80f080","#f0f040","#ffa030","#f04520","#a81e10"]}}},
"layer":[{"mark":{"type":"rect","width":13,"height":13,"opacity":1}},{"mark":{"type":"rect","width":17,"height":17,"opacity":0.4}}]},
{"layer":[
{"data":{"values":[{"x0":-9.9,"x1":5.1,"y0":-10.3,"y1":9.64}]},"mark":{"type":"rect","color":"white","opacity":0.28},"encoding":{"x":{"field":"x0","type":"quantitative","scale":{"domain":[-20.24,19.83],"range":[1972,2640],"nice":false,"zero":false},"axis":null},"x2":{"field":"x1"},"y":{"field":"y0","type":"quantitative","scale":{"domain":[-25.3,24.76],"range":[73,909],"nice":false,"zero":false},"axis":null},"y2":{"field":"y1"}}},
{"data":{"values":[{"a":18.37,"b":13.6,"y":4.07}]},"mark":{"type":"rule","color":"#f40000","strokeWidth":15},"encoding":{"x":{"field":"a","type":"quantitative"},"x2":{"field":"b"},"y":{"field":"y","type":"quantitative"}}},
{"data":{"values":[{"x":10.7,"y":4.07}]},"mark":{"type":"point","filled":true,"opacity":1,"color":"#f40000","shape":"M1,-0.73L1,0.73L-1,0Z","size":9409},"encoding":{"x":{"field":"x","type":"quantitative"},"y":{"field":"y","type":"quantitative"}}},
{"data":{"values":[{"x":8.85,"y":10.96,"t":"Proton beam"}]},"mark":{"type":"text","font":"Liberation Sans","fontWeight":"bold","fontSize":68,"color":"#ee1122","align":"center","baseline":"middle"},"encoding":{"x":{"field":"x","type":"quantitative"},"y":{"field":"y","type":"quantitative"},"text":{"field":"t"}}}
]},
{"layer":[
{"data":{"values":[{"g":0,"lo":-0.0526,"hi":1.05},{"g":25,"lo":-0.0526,"hi":1.05},{"g":50,"lo":-0.0526,"hi":1.05},{"g":75,"lo":-0.0526,"hi":1.05},{"g":100,"lo":-0.0526,"hi":1.05},{"g":125,"lo":-0.0526,"hi":1.05},{"g":150,"lo":-0.0526,"hi":1.05}]},"mark":{"type":"rule","color":"#cfcfcf","strokeWidth":2},"encoding":{"x":{"field":"g","type":"quantitative","scale":{"domain":[-7.08,154.6],"range":[235,1309],"nice":false,"zero":false},"axis":{"orient":"bottom","offset":-87,"values":[0,25,50,75,100,125,150],"title":"Position in phantom [mm]","labelFontSize":27,"titleFontSize":31,"tickSize":7,"labelPadding":6,"titleX":771,"titleY":63}},"y":{"field":"lo","type":"quantitative","scale":{"domain":[-0.0526,1.05],"range":[1864,1026],"nice":false,"zero":false},"axis":{"orient":"left","offset":-235,"values":[0,0.2,0.4,0.6,0.8,1],"format":".1f","title":"Normalized activity [AU]","labelFontSize":28,"titleFontSize":29,"tickSize":7,"labelPadding":10,"titleX":-96,"titleY":1446}},"y2":{"field":"hi"}}},
{"data":{"values":[{"g":0,"lo":-7.08,"hi":154.6},{"g":0.2,"lo":-7.08,"hi":154.6},{"g":0.4,"lo":-7.08,"hi":154.6},{"g":0.6,"lo":-7.08,"hi":154.6},{"g":0.8,"lo":-7.08,"hi":154.6},{"g":1,"lo":-7.08,"hi":154.6}]},"mark":{"type":"rule","color":"#cfcfcf","strokeWidth":2},"encoding":{"y":{"field":"g","type":"quantitative"},"x":{"field":"lo","type":"quantitative"},"x2":{"field":"hi"}}},
{"data":{"values":[{"x0":-7.08,"x1":154.6,"y0":-0.0526,"y1":1.05}]},"mark":{"type":"rect","fillOpacity":0,"stroke":"#555555","strokeWidth":2},"encoding":{"x":{"field":"x0","type":"quantitative"},"x2":{"field":"x1"},"y":{"field":"y0","type":"quantitative"},"y2":{"field":"y1"}}},
{"data":{"values":[{"x0":101.5,"x1":152.7,"y0":1.033,"y1":0.774}]},"mark":{"type":"rect","color":"white","fillOpacity":0.8,"stroke":"#dddddd","strokeWidth":2,"cornerRadius":5},"encoding":{"x":{"field":"x0","type":"quantitative"},"x2":{"field":"x1"},"y":{"field":"y0","type":"quantitative"},"y2":{"field":"y1"}}},
{"data":{"name":"b1"},"transform":[{"fold":["f1","f2","f3","f4"],"as":["s","val"]}],"mark":{"type":"line","strokeWidth":5,"interpolate":"linear"},"encoding":{"x":{"field":"x","type":"quantitative"},"y":{"field":"val","type":"quantitative"},"color":{"field":"s","type":"nominal","scale":{"domain":["f1","f2","f3","f4"],"range":["#f01010","#0a7d0a","#1010e0","#bb11c4"]},"legend":{"orient":"none","legendX":987.5,"legendY":1050,"title":null,"symbolType":"M-3,0L3,0","symbolSize":484,"symbolStrokeWidth":4,"labelFont":"DejaVu Sans","labelFontWeight":"bold","labelFontSize":30,"labelColor":"#111","labelOffset":37,"rowPadding":17,"padding":0,"labelLimit":400,"labelExpr":"{'f1':'Field1 - R100','f2':'Field2 - R110','f3':'Field3 - R119','f4':'Field4 - R104'}[datum.value]"}}}},
{"data":{"values":[{"x0":22,"x1":156,"y0":1.057,"y1":-0.159}]},"mark":{"type":"rect","fillOpacity":0,"stroke":"#e5181c","strokeWidth":7},"encoding":{"x":{"field":"x0","type":"quantitative"},"x2":{"field":"x1"},"y":{"field":"y0","type":"quantitative"},"y2":{"field":"y1"}}},
{"data":{"values":[{"a":156,"b":165.5,"y":0.442}]},"mark":{"type":"rule","color":"#f40000","strokeWidth":13},"encoding":{"x":{"field":"a","type":"quantitative"},"x2":{"field":"b"},"y":{"field":"y","type":"quantitative"}}},
{"data":{"values":[{"x":173.1,"y":0.442}]},"mark":{"type":"point","filled":true,"opacity":1,"color":"#f40000","shape":"M-1,-0.69L-1,0.69L1,0Z","size":10201},"encoding":{"x":{"field":"x","type":"quantitative"},"y":{"field":"y","type":"quantitative"}}}
]},
{"layer":[
{"data":{"values":[{"g":25,"lo":-0.0484,"hi":1.051},{"g":50,"lo":-0.0484,"hi":1.051},{"g":75,"lo":-0.0484,"hi":1.051},{"g":100,"lo":-0.0484,"hi":1.051},{"g":125,"lo":-0.0484,"hi":1.051},{"g":150,"lo":-0.0484,"hi":1.051}]},"mark":{"type":"rule","color":"#cfcfcf","strokeWidth":2},"encoding":{"x":{"field":"g","type":"quantitative","scale":{"domain":[19.01,153.74],"range":[1594,2674],"nice":false,"zero":false},"axis":{"orient":"bottom","offset":-88,"values":[25,50,75,100,125,150],"title":"Position in phantom [mm]","labelFontSize":27,"titleFontSize":31,"tickSize":7,"labelPadding":6,"titleX":2132,"titleY":64}},"y":{"field":"lo","type":"quantitative","scale":{"domain":[-0.0484,1.051],"range":[1863,1022],"nice":false,"zero":false},"axis":{"orient":"left","offset":-1594,"values":[0,0.2,0.4,0.6,0.8,1],"format":".1f","title":"Normalized activity [AU]","labelFontSize":28,"titleFontSize":29,"tickSize":7,"labelPadding":10,"titleX":-94,"titleY":1446}},"y2":{"field":"hi"}}},
{"data":{"values":[{"g":0,"lo":19.01,"hi":153.74},{"g":0.2,"lo":19.01,"hi":153.74},{"g":0.4,"lo":19.01,"hi":153.74},{"g":0.6,"lo":19.01,"hi":153.74},{"g":0.8,"lo":19.01,"hi":153.74},{"g":1,"lo":19.01,"hi":153.74}]},"mark":{"type":"rule","color":"#cfcfcf","strokeWidth":2},"encoding":{"y":{"field":"g","type":"quantitative"},"x":{"field":"lo","type":"quantitative"},"x2":{"field":"hi"}}},
{"data":{"values":[{"x0":19.01,"x1":153.74,"y0":-0.0484,"y1":1.051}]},"mark":{"type":"rect","fillOpacity":0,"stroke":"#888888","strokeWidth":2},"encoding":{"x":{"field":"x0","type":"quantitative"},"x2":{"field":"x1"},"y":{"field":"y0","type":"quantitative"},"y2":{"field":"y1"}}},
{"data":{"values":[{"x0":109.1,"x1":151.5,"y0":1.033,"y1":0.776}]},"mark":{"type":"rect","color":"white","fillOpacity":0.8,"stroke":"#dddddd","strokeWidth":2,"cornerRadius":5},"encoding":{"x":{"field":"x0","type":"quantitative"},"x2":{"field":"x1"},"y":{"field":"y0","type":"quantitative"},"y2":{"field":"y1"}}},
{"data":{"name":"b2"},"transform":[{"fold":["f1","f2","f3","f4"],"as":["s","val"]}],"mark":{"type":"line","strokeWidth":5,"interpolate":"linear"},"encoding":{"x":{"field":"x","type":"quantitative"},"y":{"field":"val","type":"quantitative"},"color":{"field":"s","type":"nominal","scale":{"domain":["f1","f2","f3","f4"],"range":["#f01010","#0a7d0a","#1010e0","#bb11c4"]},"legend":{"orient":"none","legendX":2348,"legendY":1047,"title":null,"symbolType":"M-3,0L3,0","symbolSize":484,"symbolStrokeWidth":4,"labelFont":"DejaVu Sans","labelFontWeight":"bold","labelFontSize":30,"labelColor":"#111","labelOffset":39,"rowPadding":17,"padding":0,"labelLimit":400,"labelExpr":"{'f1':'Field1 - R100','f2':'Field2 - R110','f3':'Field3 - R119','f4':'Field4 - R104'}[datum.value]"}}}},
{"data":{"values":[{"x":22.4,"y":0.595,"t":"117.77 MeV"},{"x":22.4,"y":0.512,"t":"120.53 MeV"},{"x":22.4,"y":0.434,"t":"124.23 MeV"},{"x":22.4,"y":0.353,"t":"129.85 MeV"}]},"mark":{"type":"text","font":"Liberation Sans","fontWeight":"bold","fontSize":35,"color":"#111","align":"left","baseline":"middle"},"encoding":{"x":{"field":"x","type":"quantitative"},"y":{"field":"y","type":"quantitative"},"text":{"field":"t"}}}
]},
{"layer":[
{"data":{"values":[{"e":"117.77 MeV","a":53.8,"b":70,"y":0.596},{"e":"120.53 MeV","a":53.8,"b":73.2,"y":0.518},{"e":"124.23 MeV","a":53.8,"b":76.9,"y":0.434},{"e":"129.85 MeV","a":53.8,"b":80.7,"y":0.353}]},"mark":{"type":"rule","strokeWidth":5},"encoding":{"x":{"field":"a","type":"quantitative","scale":{"domain":[19.01,153.74],"range":[1594,2674],"nice":false,"zero":false},"axis":null},"x2":{"field":"b"},"y":{"field":"y","type":"quantitative","scale":{"domain":[-0.0484,1.051],"range":[1863,1022],"nice":false,"zero":false},"axis":null},"color":{"field":"e","type":"nominal","legend":null,"scale":{"domain":["117.77 MeV","120.53 MeV","124.23 MeV","129.85 MeV"],"range":["#f00000","#ff00ff","#38761d","#0000ff"]}}}},
{"data":{"values":[{"e":"117.77 MeV","x":71.85,"y":0.596},{"e":"120.53 MeV","x":75.2,"y":0.518},{"e":"124.23 MeV","x":79,"y":0.434},{"e":"129.85 MeV","x":82.7,"y":0.353}]},"mark":{"type":"point","filled":true,"opacity":1,"shape":"M-1,-0.7L-1,0.7L1,0Z","size":1300},"encoding":{"x":{"field":"x","type":"quantitative"},"y":{"field":"y","type":"quantitative"},"color":{"field":"e","type":"nominal","legend":null}}}
]}
]}
